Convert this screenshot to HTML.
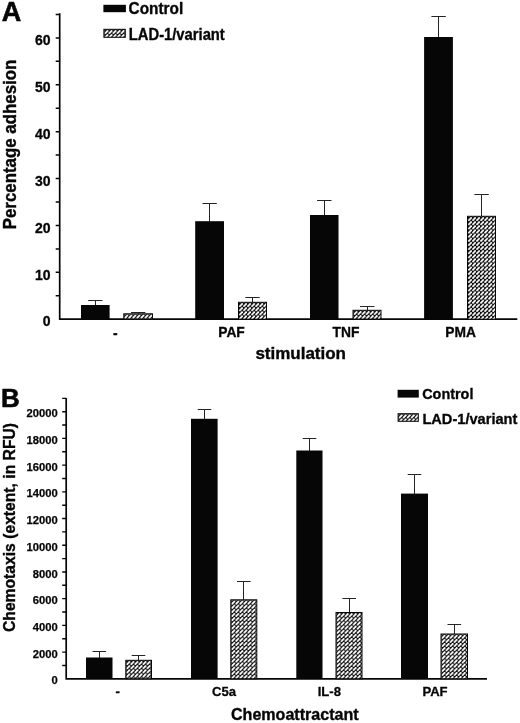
<!DOCTYPE html>
<html lang="en"><head><meta charset="utf-8"><title>Figure: adhesion and chemotaxis</title>
<style>html,body{margin:0;padding:0;background:#fff}svg{display:block;will-change:transform;filter:grayscale(1)}text{font-family:"Liberation Sans", Arial, Helvetica, sans-serif;font-weight:700;fill:#060606}</style></head><body>
<svg width="520" height="723" viewBox="0 0 520 723">
<defs><pattern id="h" x="1" y="1.2" width="4.04" height="4.13" patternUnits="userSpaceOnUse"><rect width="4.04" height="4.13" fill="#060606"/><path d="M0.3 3.85L3.74 0.28" stroke="#fff" stroke-width="1.85" stroke-linecap="butt"/></pattern></defs>
<rect width="520" height="723" fill="#fff"/>
<text x="1.8" y="20.6" font-size="27.0" text-anchor="start" stroke="#060606" stroke-width="0.59">A</text>
<path d="M59.7 13.2V319.2M58.900000000000006 319.2H517.3" stroke="#060606" stroke-width="1.7" fill="none"/>
<path d="M55.7 295.76H59.7M55.7 272.32H59.7M55.7 248.88H59.7M55.7 225.43H59.7M55.7 201.99H59.7M55.7 178.55H59.7M55.7 155.11H59.7M55.7 131.67H59.7M55.7 108.22H59.7M55.7 84.78H59.7M55.7 61.34H59.7M55.7 37.90H59.7M55.7 14.46H59.7" stroke="#060606" stroke-width="1.5" fill="none"/>
<text x="50.6" y="326.4" font-size="14.0" text-anchor="end" stroke="#060606" stroke-width="0.31">0</text>
<text x="50.6" y="279.52" font-size="14.0" text-anchor="end" stroke="#060606" stroke-width="0.31">10</text>
<text x="50.6" y="232.63" font-size="14.0" text-anchor="end" stroke="#060606" stroke-width="0.31">20</text>
<text x="50.6" y="185.75" font-size="14.0" text-anchor="end" stroke="#060606" stroke-width="0.31">30</text>
<text x="50.6" y="138.87" font-size="14.0" text-anchor="end" stroke="#060606" stroke-width="0.31">40</text>
<text x="50.6" y="91.98" font-size="14.0" text-anchor="end" stroke="#060606" stroke-width="0.31">50</text>
<text x="50.6" y="45.1" font-size="14.0" text-anchor="end" stroke="#060606" stroke-width="0.31">60</text>
<text transform="translate(16.4,144.5) rotate(-90)" font-size="17.6" text-anchor="middle" stroke="#060606" stroke-width="0.39" textLength="169.6" lengthAdjust="spacingAndGlyphs">Percentage adhesion</text>
<rect x="103.4" y="4.8" width="22.5" height="7.4" fill="#060606"/>
<g transform="translate(103.4,28.8)"><rect x="0.5" y="0.5" width="21.4" height="8.0" fill="url(#h)" stroke="#060606" stroke-width="1"/></g>
<text x="128.6" y="13.6" font-size="15.6" text-anchor="start" textLength="54.6" lengthAdjust="spacingAndGlyphs" stroke="#060606" stroke-width="0.34">Control</text>
<text x="128.8" y="39.8" font-size="15.6" text-anchor="start" textLength="96.0" lengthAdjust="spacingAndGlyphs" stroke="#060606" stroke-width="0.34">LAD-1/variant</text>
<path d="M95.5 305.5V300.5M88.1 300.5H102.5" stroke="#242424" stroke-width="1" fill="none"/>
<rect x="81.0" y="305.0" width="28.599999999999994" height="14.199999999999989" fill="#060606"/>
<path d="M138.5 313.8V312.5M131.0 312.5H145.4" stroke="#242424" stroke-width="1" fill="none"/>
<g transform="translate(123.3,313.3)"><rect x="0.5" y="0.5" width="28.7" height="5.4" fill="url(#h)" stroke="#060606" stroke-width="1"/></g>
<path d="M209.5 221.7V203.5M202.5 203.5H216.9" stroke="#242424" stroke-width="1" fill="none"/>
<rect x="195.2" y="221.2" width="28.80000000000001" height="98.0" fill="#060606"/>
<path d="M252.5 302.3V297.5M245.3 297.5H259.7" stroke="#242424" stroke-width="1" fill="none"/>
<g transform="translate(238.0,301.8)"><rect x="0.5" y="0.5" width="28.0" height="16.9" fill="url(#h)" stroke="#060606" stroke-width="1"/></g>
<path d="M324.5 215.5V200.5M317.1 200.5H331.5" stroke="#242424" stroke-width="1" fill="none"/>
<rect x="310.0" y="215.0" width="28.5" height="104.19999999999999" fill="#060606"/>
<path d="M367.5 310.3V306.5M360.0 306.5H374.4" stroke="#242424" stroke-width="1" fill="none"/>
<g transform="translate(352.5,309.8)"><rect x="0.5" y="0.5" width="28.0" height="8.9" fill="url(#h)" stroke="#060606" stroke-width="1"/></g>
<path d="M438.5 37.5V16.5M431.4 16.5H445.8" stroke="#242424" stroke-width="1" fill="none"/>
<rect x="424.1" y="37.0" width="28.799999999999955" height="282.2" fill="#060606"/>
<path d="M481.5 216.3V194.5M474.4 194.5H488.8" stroke="#242424" stroke-width="1" fill="none"/>
<g transform="translate(467.0,215.8)"><rect x="0.5" y="0.5" width="28.0" height="102.9" fill="url(#h)" stroke="#060606" stroke-width="1"/></g>
<text x="115.2" y="338.2" font-size="13.8" text-anchor="middle" stroke="#060606" stroke-width="0.3">-</text>
<text x="231.5" y="337.2" font-size="13.8" text-anchor="middle" stroke="#060606" stroke-width="0.3">PAF</text>
<text x="346.0" y="337.2" font-size="13.8" text-anchor="middle" stroke="#060606" stroke-width="0.3">TNF</text>
<text x="460.7" y="337.2" font-size="13.8" text-anchor="middle" stroke="#060606" stroke-width="0.3">PMA</text>
<text x="255.4" y="358.8" font-size="17.3" text-anchor="start" textLength="90.6" lengthAdjust="spacingAndGlyphs" stroke="#060606" stroke-width="0.38">stimulation</text>
<text x="0.9" y="406.8" font-size="26.0" text-anchor="start" stroke="#060606" stroke-width="0.57">B</text>
<path d="M66.2 398.0V678.8M65.4 678.8H487" stroke="#060606" stroke-width="1.7" fill="none"/>
<path d="M62.2 665.44H66.2M62.2 652.09H66.2M62.2 638.73H66.2M62.2 625.38H66.2M62.2 612.02H66.2M62.2 598.67H66.2M62.2 585.31H66.2M62.2 571.96H66.2M62.2 558.61H66.2M62.2 545.25H66.2M62.2 531.89H66.2M62.2 518.54H66.2M62.2 505.18H66.2M62.2 491.83H66.2M62.2 478.47H66.2M62.2 465.12H66.2M62.2 451.76H66.2M62.2 438.41H66.2M62.2 425.05H66.2M62.2 411.70H66.2M62.2 398.34H66.2" stroke="#060606" stroke-width="1.4" fill="none"/>
<text x="57.7" y="684.4" font-size="11.2" text-anchor="end" stroke="#060606" stroke-width="0.25">0</text>
<text x="57.7" y="657.69" font-size="11.2" text-anchor="end" stroke="#060606" stroke-width="0.25">2000</text>
<text x="57.7" y="630.98" font-size="11.2" text-anchor="end" stroke="#060606" stroke-width="0.25">4000</text>
<text x="57.7" y="604.27" font-size="11.2" text-anchor="end" stroke="#060606" stroke-width="0.25">6000</text>
<text x="57.7" y="577.56" font-size="11.2" text-anchor="end" stroke="#060606" stroke-width="0.25">8000</text>
<text x="57.7" y="550.85" font-size="11.2" text-anchor="end" stroke="#060606" stroke-width="0.25">10000</text>
<text x="57.7" y="524.14" font-size="11.2" text-anchor="end" stroke="#060606" stroke-width="0.25">12000</text>
<text x="57.7" y="497.43" font-size="11.2" text-anchor="end" stroke="#060606" stroke-width="0.25">14000</text>
<text x="57.7" y="470.72" font-size="11.2" text-anchor="end" stroke="#060606" stroke-width="0.25">16000</text>
<text x="57.7" y="444.01" font-size="11.2" text-anchor="end" stroke="#060606" stroke-width="0.25">18000</text>
<text x="57.7" y="417.3" font-size="11.2" text-anchor="end" stroke="#060606" stroke-width="0.25">20000</text>
<text transform="translate(15.2,527.5) rotate(-90)" font-size="16.3" text-anchor="middle" stroke="#060606" stroke-width="0.36" textLength="209" lengthAdjust="spacingAndGlyphs">Chemotaxis (extent, in RFU)</text>
<rect x="397.6" y="389.8" width="21.2" height="7.8" fill="#060606"/>
<g transform="translate(397.6,413.2)"><rect x="0.5" y="0.5" width="20.2" height="7.6" fill="url(#h)" stroke="#060606" stroke-width="1"/></g>
<text x="422.2" y="399.2" font-size="15.0" text-anchor="start" textLength="51.2" lengthAdjust="spacingAndGlyphs" stroke="#060606" stroke-width="0.33">Control</text>
<text x="422.4" y="424.2" font-size="15.0" text-anchor="start" textLength="95.0" lengthAdjust="spacingAndGlyphs" stroke="#060606" stroke-width="0.33">LAD-1/variant</text>
<path d="M99.5 658.0V651.5M92.5 651.5H106.1" stroke="#242424" stroke-width="1" fill="none"/>
<rect x="86.0" y="657.5" width="26.5" height="21.299999999999955" fill="#060606"/>
<path d="M138.5 660.3V655.5M131.7 655.5H145.3" stroke="#242424" stroke-width="1" fill="none"/>
<g transform="translate(125.3,659.8)"><rect x="0.5" y="0.5" width="25.7" height="18.5" fill="url(#h)" stroke="#060606" stroke-width="1"/></g>
<path d="M204.5 419.3V409.5M197.7 409.5H211.3" stroke="#242424" stroke-width="1" fill="none"/>
<rect x="191.0" y="418.8" width="26.599999999999994" height="259.99999999999994" fill="#060606"/>
<path d="M243.5 599.8V581.5M237.0 581.5H250.6" stroke="#242424" stroke-width="1" fill="none"/>
<g transform="translate(230.3,599.3)"><rect x="0.5" y="0.5" width="26.0" height="79.0" fill="url(#h)" stroke="#060606" stroke-width="1"/></g>
<path d="M309.5 451.0V438.5M302.7 438.5H316.3" stroke="#242424" stroke-width="1" fill="none"/>
<rect x="296.3" y="450.5" width="26.19999999999999" height="228.29999999999995" fill="#060606"/>
<path d="M349.5 612.5V598.5M342.4 598.5H356.0" stroke="#242424" stroke-width="1" fill="none"/>
<g transform="translate(335.5,612.0)"><rect x="0.5" y="0.5" width="26.0" height="66.3" fill="url(#h)" stroke="#060606" stroke-width="1"/></g>
<path d="M414.5 494.1V474.5M407.7 474.5H421.3" stroke="#242424" stroke-width="1" fill="none"/>
<rect x="401.0" y="493.6" width="27.0" height="185.19999999999993" fill="#060606"/>
<path d="M454.5 634.0V624.5M447.5 624.5H461.1" stroke="#242424" stroke-width="1" fill="none"/>
<g transform="translate(440.5,633.5)"><rect x="0.5" y="0.5" width="26.5" height="44.8" fill="url(#h)" stroke="#060606" stroke-width="1"/></g>
<text x="117.6" y="695.6" font-size="13.1" text-anchor="middle" stroke="#060606" stroke-width="0.29">-</text>
<text x="224.0" y="695.6" font-size="13.1" text-anchor="middle" stroke="#060606" stroke-width="0.29">C5a</text>
<text x="329.3" y="695.6" font-size="13.1" text-anchor="middle" stroke="#060606" stroke-width="0.29">IL-8</text>
<text x="435.0" y="695.6" font-size="13.1" text-anchor="middle" stroke="#060606" stroke-width="0.29">PAF</text>
<text x="231.0" y="720.3" font-size="16.6" text-anchor="start" textLength="127.6" lengthAdjust="spacingAndGlyphs" stroke="#060606" stroke-width="0.37">Chemoattractant</text>
</svg></body></html>
